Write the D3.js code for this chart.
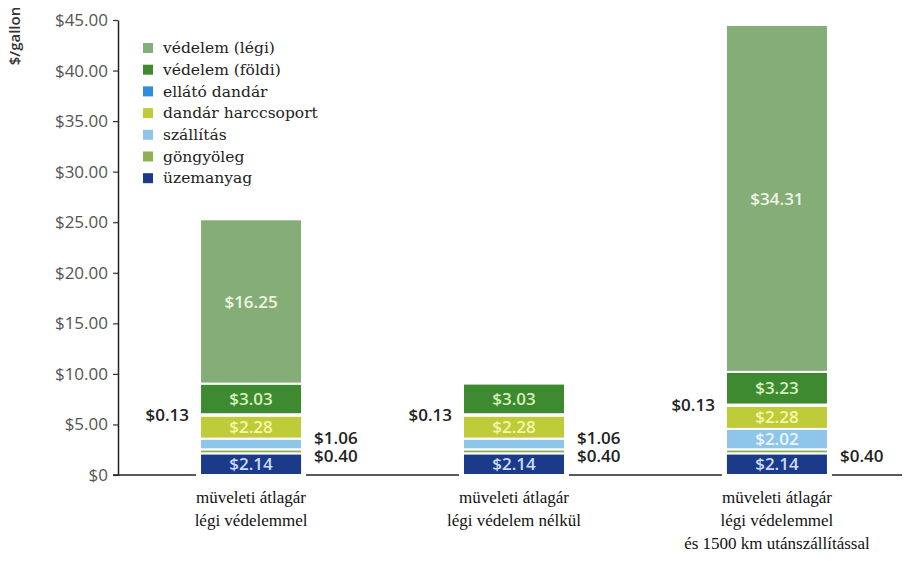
<!DOCTYPE html>
<html>
<head>
<meta charset="utf-8">
<script src="https://cdn.jsdelivr.net/npm/d3@7"></script>
<style>
  body { margin: 0; background: #fff; }
</style>
</head>
<body>
<div id="wrapper"></div>
<script>
// categories (x axis), each one line per array entry
const categories = ["c1", "c2", "c3"];
const categoryLabels = [
    ["müveleti átlagár", "légi védelemmel"],
    ["müveleti átlagár", "légi védelem nélkül"],
    ["müveleti átlagár", "légi védelemmel", "és 1500 km utánszállítással"]
];

// stacking order, bottom to top
const seriesNames = ["üzemanyag", "göngyöleg", "szállítás", "dandár harccsoport", "ellátó dandár", "védelem (földi)", "védelem (légi)"];
const seriesColors = ["#1b3a8a", "#8fb054", "#8ec6ea", "#bfcc3a", "#2e8fd8", "#3d8a30", "#85ad78"];
const labelColors = ["#cddcf4", "#ffffff", "#eef6ff", "#f6f6a8", "#ffffff", "#d6f0bc", "#eef6e2"];

// values per series, one entry per category
const uzemanyag = [2.14, 2.14, 2.14];
const gongyoleg = [0.40, 0.40, 0.40];
const szallitas = [1.06, 1.06, 2.02];
const dandarHarccsoport = [2.28, 2.28, 2.28];
const ellatoDandar = [0.13, 0.13, 0.13];
const vedelemFoldi = [3.03, 3.03, 3.23];
const vedelemLegi = [16.25, 0, 34.31];

const yTicks = [0, 5, 10, 15, 20, 25, 30, 35, 40, 45];

const seriesValues = [uzemanyag, gongyoleg, szallitas, dandarHarccsoport, ellatoDandar, vedelemFoldi, vedelemLegi];

function buildPlot() {
    const dimension = {
        width: 907,
        height: 561,
        left: 118,
        top: 20,
        baseline: 475
    };

    const svg = d3.select("#wrapper").append("svg")
        .attr("width", dimension.width)
        .attr("height", dimension.height);

    const yScaler = d3.scaleLinear()
        .domain([0, 45])
        .range([dimension.baseline, dimension.top]);

    const xScaler = d3.scaleBand()
        .domain(categories)
        .range([dimension.left, 910])
        .paddingInner(0.612)
        .paddingOuter(0.312);

    // table for d3.stack
    const table = categories.map((c, i) => {
        const row = { cat: c };
        seriesNames.forEach((s, j) => row[s] = seriesValues[j][i]);
        return row;
    });
    const stacked = d3.stack().keys(seriesNames)(table);

    // y axis
    const yAxisGenerator = d3.axisLeft(yScaler)
        .tickValues(yTicks)
        .tickSize(5)
        .tickSizeOuter(0)
        .tickFormat(d => d === 0 ? "$0" : "$" + d.toFixed(2));
    const yAxis = svg.append("g")
        .attr("transform", `translate(${dimension.left},0)`)
        .call(yAxisGenerator);
    yAxis.select(".domain").attr("stroke", "#222").attr("stroke-width", 1.5);
    yAxis.selectAll(".tick line").attr("stroke", "#333").attr("stroke-width", 1.2);
    yAxis.selectAll(".tick text")
        .attr("x", -10)
        .attr("fill", "#555")
        .style("font-family", "'Open Sans', sans-serif")
        .style("font-size", "17px");

    svg.append("text")
        .attr("transform", "translate(20,36) rotate(-90)")
        .attr("text-anchor", "middle")
        .attr("fill", "#333")
        .style("font-family", "'Open Sans', sans-serif")
        .style("font-size", "15px")
        .style("font-weight", "600")
        .text("$/gallon");

    // baseline
    svg.append("line")
        .attr("x1", dimension.left - 5)
        .attr("x2", 902)
        .attr("y1", yScaler(0))
        .attr("y2", yScaler(0))
        .attr("stroke", "#222")
        .attr("stroke-width", 1.5);

    // white gap in baseline around each bar
    svg.selectAll("rect.gap")
        .data(categories)
        .join("rect")
        .attr("class", "gap")
        .attr("x", d => xScaler(d) - 4)
        .attr("width", xScaler.bandwidth() + 8)
        .attr("y", yScaler(0) - 3)
        .attr("height", 6)
        .attr("fill", "#fff");

    // bars
    const layers = svg.selectAll("g.layer")
        .data(stacked)
        .join("g")
        .attr("class", "layer")
        .attr("fill", d => seriesColors[d.index]);

    layers.selectAll("rect")
        .data(d => d.filter(p => p[1] - p[0] > 0))
        .join("rect")
        .attr("x", d => xScaler(d.data.cat))
        .attr("width", xScaler.bandwidth())
        .attr("y", d => yScaler(d[1]))
        .attr("height", d => yScaler(d[0]) - yScaler(d[1]))
        .attr("stroke", "#fff")
        .attr("stroke-width", 2);

    const labelFont = sel => sel
        .style("font-family", "'Open Sans', sans-serif")
        .style("font-size", "17px")
        .style("font-weight", "600");

    // labels inside the segments
    stacked.forEach(layer => {
        layer.forEach(p => {
            const v = p[1] - p[0];
            if (v < 1.5) return;
            svg.append("text")
                .attr("x", xScaler(p.data.cat) + xScaler.bandwidth() / 2)
                .attr("y", yScaler((p[0] + p[1]) / 2))
                .attr("dy", "0.36em")
                .attr("text-anchor", "middle")
                .attr("fill", labelColors[layer.index])
                .call(labelFont)
                .text("$" + v.toFixed(2));
        });
    });

    // small values outside the bars
    categories.forEach((c, i) => {
        const x0 = xScaler(c);
        const x1 = x0 + xScaler.bandwidth();
        // ellátó dandár to the left
        const e = stacked[4][i];
        svg.append("text")
            .attr("x", x0 - 11)
            .attr("y", yScaler((e[0] + e[1]) / 2))
            .attr("dy", "0.36em")
            .attr("text-anchor", "end")
            .attr("fill", "#222")
            .call(labelFont)
            .text("$" + (e[1] - e[0]).toFixed(2));

        // right side, stacked up from göngyöleg
        const g = stacked[1][i];
        const right = [g];
        if (stacked[2][i][1] - stacked[2][i][0] < 1.5) right.push(stacked[2][i]);
        const yBottom = yScaler((g[0] + g[1]) / 2) + 5;
        right.forEach((p, k) => {
            svg.append("text")
                .attr("x", x1 + 12)
                .attr("y", yBottom - k * 18)
                .attr("dy", "0.36em")
                .attr("fill", "#222")
                .call(labelFont)
                .text("$" + (p[1] - p[0]).toFixed(2));
        });
    });

    // category labels
    categories.forEach((c, i) => {
        const t = svg.append("text")
            .attr("x", xScaler(c) + xScaler.bandwidth() / 2)
            .attr("y", 503)
            .attr("text-anchor", "middle")
            .attr("fill", "#111")
            .style("font-family", "'Liberation Serif', 'Times New Roman', serif")
            .style("font-size", "17px");
        categoryLabels[i].forEach((line, k) => {
            t.append("tspan")
                .attr("x", xScaler(c) + xScaler.bandwidth() / 2)
                .attr("dy", k === 0 ? 0 : 23)
                .text(line);
        });
    });

    // legend, top item first
    const legendOrder = seriesNames.map((s, j) => j).reverse();
    const legend = svg.append("g").attr("transform", "translate(143,48)");
    legendOrder.forEach((j, k) => {
        const row = legend.append("g").attr("transform", `translate(0,${k * 21.7})`);
        row.append("rect")
            .attr("x", 0)
            .attr("y", -5)
            .attr("width", 10)
            .attr("height", 10)
            .attr("fill", seriesColors[j]);
        row.append("text")
            .attr("x", 20)
            .attr("dy", "0.33em")
            .attr("fill", "#222")
            .style("font-family", "'DejaVu Serif', serif")
            .style("font-size", "15.5px")
            .text(seriesNames[j]);
    });
}

buildPlot();
</script>
</body>
</html>
